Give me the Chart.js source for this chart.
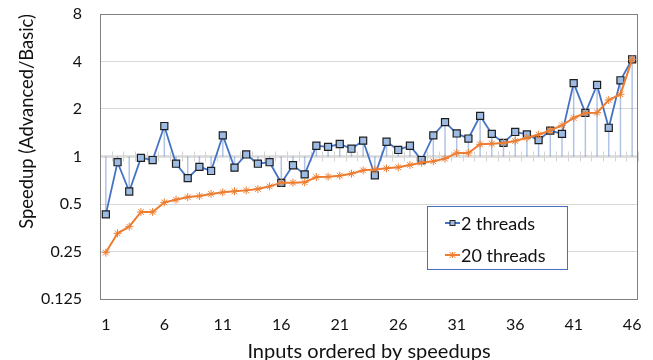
<!DOCTYPE html>
<html>
<head>
<meta charset="utf-8">
<script src="https://cdn.jsdelivr.net/npm/chart.js@4/dist/chart.umd.min.js"></script>
<style>
  html, body { margin: 0; padding: 0; background: #ffffff; }
  #wrap { position: relative; width: 653px; height: 360px; }
</style>
</head>
<body>
<div id="wrap"><canvas id="c" width="653" height="360"></canvas></div>
<script>
// ---- data ----
const categories = Array.from({length: 46}, (_, i) => String(i + 1));
const threads2 = [0.43,0.92,0.60,0.98,0.95,1.56,0.90,0.73,0.86,0.81,
                  1.36,0.85,1.03,0.90,0.92,0.68,0.88,0.77,1.17,1.15,
                  1.20,1.12,1.26,0.76,1.24,1.10,1.17,0.95,1.36,1.65,
                  1.40,1.30,1.81,1.39,1.22,1.43,1.38,1.27,1.46,1.39,
                  2.92,1.89,2.84,1.52,3.04,4.13];
const threads20 = [0.246,0.326,0.359,0.445,0.445,0.512,0.532,0.553,0.562,0.579,
                   0.593,0.602,0.610,0.622,0.647,0.683,0.683,0.686,0.741,0.745,
                   0.756,0.778,0.817,0.826,0.841,0.854,0.884,0.914,0.932,0.969,
                   1.053,1.053,1.195,1.206,1.217,1.254,1.316,1.375,1.465,1.576,
                   1.754,1.887,1.896,2.28,2.48,4.13];
const yTicks = [0.125, 0.25, 0.5, 1, 2, 4, 8];
const seriesNames = ['2 threads', '20 threads'];
const xTitle = 'Inputs ordered by speedups';
const yTitle = 'Speedup (Advanced/Basic)';

const FONT = 'Lato';
const BLUE = '#4472c4';
const BLUE_FILL = '#9dbbe3';
const ORANGE = '#ed7d31';

// axis at y=1 with cross tick marks, and drop lines from 2-thread points to 1
const underlay = {
  id: 'underlay',
  beforeDatasetsDraw(chart) {
    const {ctx, chartArea: a, scales: {x, y}} = chart;
    const y1 = y.getPixelForValue(1);
    ctx.save();
    ctx.strokeStyle = '#d9d9d9';
    ctx.lineWidth = 2.5;
    ctx.beginPath(); ctx.moveTo(a.left, y1); ctx.lineTo(a.right, y1); ctx.stroke();
    ctx.lineWidth = 1;
    ctx.strokeStyle = '#d4d4d4';
    for (let i = 0; i <= categories.length; i++) {
      const px = Math.round(x.getPixelForValue(i - 0.5)) + 0.5;
      ctx.beginPath(); ctx.moveTo(px, y1 - 5); ctx.lineTo(px, y1 + 5); ctx.stroke();
    }
    ctx.strokeStyle = 'rgba(68,114,196,0.42)';
    ctx.lineWidth = 1.5;
    threads2.forEach((v, i) => {
      const px = x.getPixelForValue(i);
      ctx.beginPath(); ctx.moveTo(px, y.getPixelForValue(v)); ctx.lineTo(px, y1); ctx.stroke();
    });
    ctx.restore();
  },
  afterDraw(chart) {
    const {ctx, chartArea: a} = chart;
    ctx.save();
    ctx.strokeStyle = '#808080';
    ctx.lineWidth = 1;
    ctx.strokeRect(Math.round(a.left) + 0.5, Math.round(a.top) + 0.5,
                   Math.round(a.right - a.left) - 1, Math.round(a.bottom - a.top));
    // legend box
    const bx = 427, by = 206, bw = 140, bh = 63;
    ctx.fillStyle = '#ffffff';
    ctx.fillRect(bx, by, bw, bh);
    ctx.strokeStyle = '#4a6fbf';
    ctx.strokeRect(bx + 0.5, by + 0.5, bw, bh);
    const rows = [by + 17, by + 49];
    ctx.font = '18px ' + FONT;
    ctx.textBaseline = 'middle';
    ctx.textAlign = 'left';
    // entry 1
    ctx.strokeStyle = BLUE; ctx.lineWidth = 2;
    ctx.beginPath(); ctx.moveTo(445, rows[0]); ctx.lineTo(460, rows[0]); ctx.stroke();
    ctx.fillStyle = BLUE_FILL; ctx.fillRect(450, rows[0] - 2.5, 5, 5);
    ctx.strokeStyle = '#222'; ctx.lineWidth = 1; ctx.strokeRect(450, rows[0] - 2.5, 5, 5);
    // entry 2
    ctx.strokeStyle = ORANGE; ctx.lineWidth = 2;
    ctx.beginPath(); ctx.moveTo(445, rows[1]); ctx.lineTo(460, rows[1]); ctx.stroke();
    ctx.lineWidth = 1;
    const sx = 452.5, sy = rows[1], r = 3;
    ctx.beginPath();
    ctx.moveTo(sx - r, sy - r); ctx.lineTo(sx + r, sy + r);
    ctx.moveTo(sx - r, sy + r); ctx.lineTo(sx + r, sy - r);
    ctx.moveTo(sx, sy - r); ctx.lineTo(sx, sy + r);
    ctx.stroke();
    ctx.fillStyle = '#111';
    ctx.fillText(seriesNames[0], 461, rows[0] + 1);
    ctx.fillText(seriesNames[1], 461, rows[1] + 1);
    ctx.restore();
  }
};

new Chart(document.getElementById('c'), {
  type: 'line',
  data: {
    labels: categories,
    datasets: [
      {
        label: seriesNames[0],
        data: threads2,
        borderColor: BLUE,
        borderWidth: 1.8,
        pointStyle: 'rect',
        pointRadius: 5,
        pointBackgroundColor: BLUE_FILL,
        pointBorderColor: '#1e1e1e',
        pointBorderWidth: 1.2,
        tension: 0,
        order: 1
      },
      {
        label: seriesNames[1],
        data: threads20,
        borderColor: ORANGE,
        borderWidth: 2,
        pointStyle: 'star',
        pointRadius: 4,
        pointBorderColor: ORANGE,
        pointBackgroundColor: ORANGE,
        pointBorderWidth: 1,
        tension: 0,
        order: 0
      }
    ]
  },
  options: {
    responsive: false,
    animation: false,
    events: [],
    layout: { padding: { top: 14, right: 15, left: 0, bottom: 0 } },
    plugins: { legend: { display: false }, tooltip: { enabled: false } },
    scales: {
      x: {
        type: 'category',
        offset: true,
        grid: { display: false, drawTicks: false },
        border: { display: false },
        ticks: {
          autoSkip: false,
          maxRotation: 0,
          padding: 16,
          color: '#111',
          font: { family: FONT, size: 16 },
          callback: (v, i) => (i % 5 === 0 ? categories[i] : '')
        },
        title: {
          display: true,
          text: xTitle,
          color: '#111',
          font: { family: FONT, size: 20, lineHeight: 1 },
          padding: { top: 0, bottom: -2 }
        },
        afterFit: s => { s.height = 61; s.paddingLeft = 0; s.paddingRight = 0; }
      },
      y: {
        type: 'logarithmic',
        min: 0.125,
        max: 8,
        afterBuildTicks: s => { s.ticks = yTicks.map(v => ({ value: v })); },
        grid: {
          drawTicks: false,
          tickLength: 0,
          lineWidth: 1,
          color: c => (c.tick && (c.tick.value === 1 || c.tick.value === 8 || c.tick.value === 0.125)) ? 'rgba(0,0,0,0)' : '#d9d9d9'
        },
        border: { display: false },
        ticks: {
          padding: 18,
          color: '#111',
          font: { family: FONT, size: 16 },
          callback: v => String(v)
        },
        title: {
          display: true,
          text: yTitle,
          align: 'end',
          color: '#111',
          font: { family: FONT, size: 18.4, lineHeight: 1.2 },
          padding: { top: 16, bottom: 0 }
        },
        afterFit: s => { s.width = 100; s.paddingTop = 0; s.paddingBottom = 0; }
      }
    }
  },
  plugins: [underlay]
});
</script>
</body>
</html>
